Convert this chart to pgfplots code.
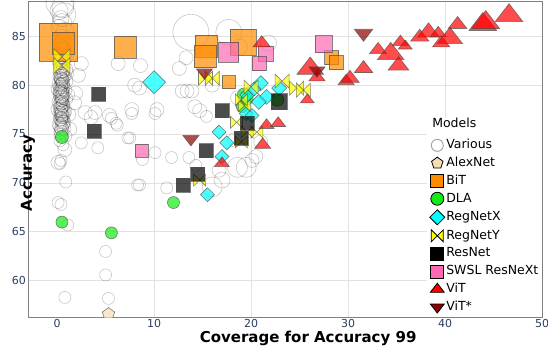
\documentclass[border=0pt]{standalone}
\usepackage{fontspec}
\setmainfont{DejaVu Sans}
\usepackage{pgfplots}
\usepackage{pgfplotstable}
\pgfplotsset{compat=1.18}
\usetikzlibrary{plotmarks,calc}

\definecolor{tickc}{RGB}{42,63,95}
\definecolor{gridc}{RGB}{226,226,226}
\definecolor{bitc}{RGB}{255,140,0}
\definecolor{dlac}{RGB}{20,235,20}
\definecolor{rxc}{RGB}{0,255,255}
\definecolor{ryc}{RGB}{255,255,0}
\definecolor{swc}{RGB}{255,105,180}
\definecolor{vitc}{RGB}{255,0,0}
\definecolor{vsc}{RGB}{139,0,0}
\definecolor{alexc}{RGB}{245,222,179}

% plotly-like marker shapes
\pgfdeclareplotmark{ptri}{%
  \pgfpathmoveto{\pgfqpoint{0pt}{\pgfplotmarksize}}%
  \pgfpathlineto{\pgfqpoint{-1.155\pgfplotmarksize}{-.5\pgfplotmarksize}}%
  \pgfpathlineto{\pgfqpoint{1.155\pgfplotmarksize}{-.5\pgfplotmarksize}}%
  \pgfpathclose\pgfusepathqfillstroke}
\pgfdeclareplotmark{ptrid}{%
  \pgfpathmoveto{\pgfqpoint{0pt}{-\pgfplotmarksize}}%
  \pgfpathlineto{\pgfqpoint{-1.155\pgfplotmarksize}{.5\pgfplotmarksize}}%
  \pgfpathlineto{\pgfqpoint{1.155\pgfplotmarksize}{.5\pgfplotmarksize}}%
  \pgfpathclose\pgfusepathqfillstroke}
\pgfdeclareplotmark{pdia}{%
  \pgfpathmoveto{\pgfqpoint{0pt}{\pgfplotmarksize}}%
  \pgfpathlineto{\pgfqpoint{\pgfplotmarksize}{0pt}}%
  \pgfpathlineto{\pgfqpoint{0pt}{-\pgfplotmarksize}}%
  \pgfpathlineto{\pgfqpoint{-\pgfplotmarksize}{0pt}}%
  \pgfpathclose\pgfusepathqfillstroke}
\pgfdeclareplotmark{pbow}{%
  \pgfpathmoveto{\pgfqpoint{\pgfplotmarksize}{\pgfplotmarksize}}%
  \pgfpathlineto{\pgfqpoint{-\pgfplotmarksize}{-\pgfplotmarksize}}%
  \pgfpathlineto{\pgfqpoint{-\pgfplotmarksize}{\pgfplotmarksize}}%
  \pgfpathlineto{\pgfqpoint{\pgfplotmarksize}{-\pgfplotmarksize}}%
  \pgfpathclose\pgfusepathqfillstroke}

\pgfplotsset{
  mk/.style 2 args={scatter, only marks, mark=#1, forget plot,
    line width=0.6pt,
    scatter/use mapped color={draw=black!70, fill=#2, fill opacity=0.7, draw opacity=0.7},
    visualization depends on={\thisrow{r}\as\rr},
    scatter/@pre marker code/.append style={/tikz/mark size=\rr pt}},
  lg/.style={line width=0.8pt, draw=black, mark size=6.5pt},
}

% x = coverage, y = accuracy, r = marker radius (pt)
\pgfplotstableread{
x y r
0.3 88.4 14
0.6 88.0 11
0.2 87.6 9
0.7 87.2 12
0.4 86.8 8
0.5 86.3 10
0.2 85.9 8
0.8 85.5 9
0.4 85.0 7
0.6 84.6 8
0.3 84.1 7
0.7 83.7 7
0.4 83.2 7
0.8 82.8 7
0.2 82.4 7
0.6 82.0 7
0.9 81.6 7
0.3 81.3 7
0.7 81.0 7
0.4 80.7 7
0.9 80.4 7
0.2 80.1 7
0.6 79.8 7
0.8 79.5 7
0.3 79.2 7
0.5 78.9 7
0.9 78.6 7
0.2 78.3 7
0.6 78.0 7
0.4 77.7 7
0.8 77.4 7
0.3 77.1 7
0.6 76.8 7
0.5 76.4 7
0.2 76.0 7
0.7 75.6 7
0.4 75.2 7
0.9 74.8 6
0.3 74.3 6
0.6 73.9 6
0.5 84.3 7
0.4 83.9 7
0.6 83.5 7
0.3 82.9 7
0.5 82.3 7
0.4 81.8 7
0.6 81.5 7
0.5 81.1 7
0.3 80.9 7
0.6 80.3 7
0.4 80.0 7
0.5 79.6 7
0.3 79.4 7
0.6 79.1 7
0.4 78.8 7
0.5 78.5 7
0.3 78.1 7
0.6 77.9 7
0.4 77.4 7
0.5 77.0 7
0.4 76.6 7
0.6 76.2 7
0.3 75.8 7
0.5 75.4 7
0.4 74.9 7
0.5 80.8 8
0.4 79.0 8
0.6 77.2 8
0.45 83.7 7
0.55 83.1 7
0.45 82.5 7
0.35 81.9 7
0.55 81.4 7
0.45 80.6 7
0.55 80.1 7
0.35 79.8 7
0.45 79.3 7
0.55 78.7 7
0.45 78.2 7
0.35 77.6 7
0.55 77.3 7
0.45 76.9 7
0.35 76.5 7
0.55 76.0 7
0.45 75.6 7
0.5 81.6 6
0.5 80.2 6
0.5 78.4 6
0.5 76.7 6
1.0 81.2 7
1.1 79.0 7
1.2 77.0 7
1.0 83.0 7
0.5 80.5 7
0.5 82.6 7
0.1 79.6 7
0.1 77.5 7
0.7 76.2 7
1.3 75.5 7
2.5 82.2 7
2.2 81.0 7
1.9 79.2 7
2.9 77.2 7
1.8 78.2 7
6.3 82.2 7
8.6 82.0 7
8.0 80.0 7
5.4 76.9 7
3.9 77.2 7
3.5 76.7 7
6.1 76.1 6
2.5 74.1 6
4.2 73.6 6
0.1 72.1 7
0.4 72.3 6
0.3 72.0 6
0.8 73.4 7
0.9 70.1 6
0.1 68.0 6
0.4 67.8 6
7.3 74.6 6
8.3 69.8 6
1.1 65.7 6
5.0 63.0 6
5.0 60.6 6
0.8 58.3 6
5.3 58.2 6
13.8 85.4 18
13.3 82.8 7
12.6 81.7 7
8.5 79.7 7
12.9 79.4 7
13.4 79.4 7
13.9 79.4 7
14.2 77.8 7
7.7 77.5 7
10.3 77.5 7
5.6 76.6 6
6.2 75.9 6
7.7 77.1 6
10.1 77.1 6
7.5 74.6 6
10.1 73.1 6
11.8 72.6 6
8.8 72.4 6
8.5 69.8 6
11.3 69.5 6
13.6 72.6 6
14.3 71.8 6
15.4 76.8 6
16.0 69.6 10
17.0 70.3 8
16.7 71.3 7
20.1 72.3 7
18.6 71.6 10
18.3 74.4 7
21.0 74.2 7
17.7 85.4 13
18.8 83.9 8
21.8 84.3 8
14.7 77.4 7
18.6 78.7 7
19.5 71.6 10
20.5 72.7 7
16.0 80.0 7
}\various

\pgfplotstableread{
x y r
5.3 56.6 6.5
}\alexnet

\pgfplotstableread{
x y r
0.1 84.4 19
0.6 84.3 11
7.0 83.9 11
15.4 84.0 11
15.3 82.9 11
19.2 84.4 13
17.7 80.3 6.5
28.3 82.8 7
28.8 82.3 7
}\bit

\pgfplotstableread{
x y r
0.5 74.7 6.5
0.5 66.0 6
5.6 64.9 6
12.0 68.0 6
19.3 79.0 7
19.1 77.8 6
19.6 78.6 6
22.7 78.5 6.5
}\dla

\pgfplotstableread{
x y r
10.0 80.3 11.5
21.0 80.2 7.5
22.9 79.7 7.5
21.6 78.8 7.5
20.8 78.3 7.5
19.6 79.0 7.5
20.3 79.6 7
19.5 77.1 7
20.1 76.9 7
16.7 75.2 7
17.5 74.1 7
17.0 72.7 7
15.5 68.8 7
}\regnetx

\pgfplotstableread{
x y r
0.5 82.9 8
0.5 82.0 8
15.3 80.7 7
16.0 80.7 7
20.0 79.8 7
23.2 80.4 7
24.7 79.7 7
25.4 79.5 7
19.3 77.9 6
19.0 78.5 6
18.5 76.2 6
20.6 75.2 6
19.6 75.2 6
19.0 74.2 6
14.7 70.3 6
}\regnety

\pgfplotstableread{
x y r
4.3 79.1 7
3.8 75.3 7
13.0 69.8 7
14.5 70.9 7
15.4 73.3 7
17.0 77.4 7
22.9 78.3 8
19.6 76.1 7
19.0 74.6 7
}\resnet

\pgfplotstableread{
x y r
8.7 73.3 6.5
17.7 83.4 10
21.5 83.2 7.5
20.8 82.2 7
27.5 84.2 8.5
}\swsl

\pgfplotstableread{
x y r
21.1 84.3 7.5
26.1 81.7 11.5
26.8 80.8 7
29.8 80.4 7
30.2 80.7 8
31.6 81.7 8
33.1 83.6 7.5
34.4 83.2 11.5
35.4 84.4 7
35.9 84.0 6
35.2 82.0 9
37.4 84.9 8
38.3 85.4 9.5
39.3 85.3 7
39.6 84.3 7.5
40.5 84.8 11
41.3 86.2 8
43.9 86.2 12
44.2 86.4 12
46.6 87.1 12
25.8 78.5 6
21.6 75.9 6.5
22.8 76.1 6.5
21.2 73.9 7
17.0 72.0 6.5
}\vit

\pgfplotstableread{
x y r
31.6 85.3 8
15.2 81.3 7
26.8 81.5 7
13.8 74.5 7
}\vitstar

\begin{document}
\begin{tikzpicture}
\begin{axis}[
  name=ax,
  scale only axis,
  width=514pt, height=316pt,
  xmin=-3, xmax=50, ymin=56.3, ymax=88.6,
  xtick={10,20,30,40,50}, extra x ticks={0},
  extra x tick style={grid=none},
  ytick={60,65,...,85},
  grid=major,
  major grid style={gridc, line width=0.8pt},
  axis line style={black!50, line width=0.8pt},
  tick style={draw=none},
  tick label style={font=\fontsize{11}{13}\selectfont, text=tickc},
  /pgf/number format/assume math mode=true,
  yticklabel style={xshift=1.5pt},
  xticklabel style={yshift=1pt},
  xlabel={Coverage for Accuracy 99},
  ylabel={Accuracy},
  every axis x label/.style={at={(rel axis cs:0.545,0)}, anchor=center, yshift=-21pt,
    font=\bfseries\fontsize{15}{17}\selectfont},
  every axis y label/.style={at={(rel axis cs:0,0.515)}, rotate=90, anchor=center, xshift=-19pt,
    font=\bfseries\fontsize{15}{17}\selectfont},
  clip marker paths=true,
  legend image code/.code={\draw[#1] plot coordinates {(0.22cm,0cm)};},
  legend style={at={(1,0)}, anchor=south east, draw=none, fill=white,
    font=\fontsize{12.5}{14}\selectfont, inner xsep=3pt, inner ysep=3pt,
    nodes={inner sep=0.5pt, text height=9.5pt, text depth=3pt},
    row sep=4.3pt, column sep=1pt},
  legend cell align=left,
]
\addplot[scatter, only marks, mark=o, forget plot, line width=0.6pt,
  scatter/use mapped color={draw=black, draw opacity=0.22},
  visualization depends on={\thisrow{r}\as\rr},
  scatter/@pre marker code/.append style={/tikz/mark size=\rr pt}]
  table[x=x, y=y] {\various};
\addplot[mk={pentagon*}{alexc}] table[x=x, y=y] {\alexnet};
\addplot[mk={square*}{bitc}] table[x=x, y=y] {\bit};
\addplot[mk={*}{dlac}] table[x=x, y=y] {\dla};
\addplot[mk={pdia}{rxc}] table[x=x, y=y] {\regnetx};
\addplot[mk={pbow}{ryc}] table[x=x, y=y] {\regnety};
\addplot[mk={square*}{black}] table[x=x, y=y] {\resnet};
\addplot[mk={square*}{swc}] table[x=x, y=y] {\swsl};
\addplot[mk={ptri}{vitc}] table[x=x, y=y] {\vit};
\addplot[mk={ptrid}{vsc}] table[x=x, y=y] {\vitstar};

\addlegendimage{empty legend}\addlegendentry{\hspace*{-14pt}\raisebox{3pt}{Models}}
\addlegendimage{mark=o, draw=black!35, mark size=6pt, line width=1pt}\addlegendentry{Various}
\addlegendimage{lg, mark=pentagon*, fill=alexc, mark size=6pt}\addlegendentry{AlexNet}
\addlegendimage{lg, mark=square*, fill=bitc}\addlegendentry{BiT}
\addlegendimage{lg, mark=*, fill=dlac}\addlegendentry{DLA}
\addlegendimage{lg, mark=pdia, fill=rxc, mark size=7.5pt}\addlegendentry{RegNetX}
\addlegendimage{lg, mark=pbow, fill=ryc, mark size=6pt}\addlegendentry{RegNetY}
\addlegendimage{lg, mark=square*, fill=black}\addlegendentry{ResNet}
\addlegendimage{lg, mark=square*, fill=swc}\addlegendentry{SWSL ResNeXt}
\addlegendimage{lg, mark=ptri, fill=vitc, mark size=6pt}\addlegendentry{ViT}
\addlegendimage{lg, mark=ptrid, fill=vsc, mark size=6pt}\addlegendentry{ViT*}
\end{axis}
\pgfresetboundingbox
\path ($(ax.south west)+(-28pt,-29pt)$) rectangle ($(ax.north east)+(6pt,1pt)$);
\end{tikzpicture}
\end{document}
